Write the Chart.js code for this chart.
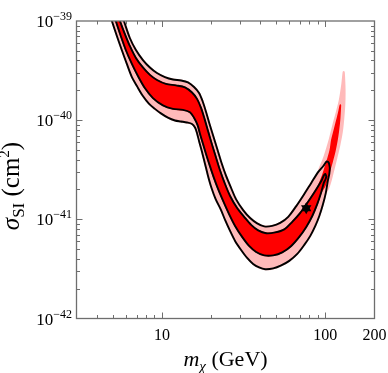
<!DOCTYPE html>
<html>
<head>
<meta charset="utf-8">
<script src="https://cdn.jsdelivr.net/npm/chart.js@4.4.1/dist/chart.umd.min.js"></script>
<style>
  html, body { margin: 0; padding: 0; background: #fff; }
  #wrap { width: 388px; height: 373px; }
</style>
</head>
<body>
<div id="wrap"><canvas id="c" width="388" height="373"></canvas></div>
<script>
// contour curves, [m_chi (GeV), sigma_SI (cm^2)]
const outerLower = [[4.70,1.29e-39],[4.94,1.0e-39],[5.30,7.06e-40],[5.68,5.10e-40],[6.10,3.69e-40],[6.55,2.72e-40],[7.03,2.21e-40],[7.65,1.75e-40],[8.32,1.47e-40],[9.06,1.30e-40],[9.86,1.17e-40],[10.88,1.06e-40],[12.02,9.93e-41],[13.08,9.70e-41],[14.23,9.48e-41],[15.28,9.16e-41],[15.94,8.44e-41],[16.39,7.43e-41],[16.87,6.17e-41],[17.60,4.78e-41],[18.36,3.62e-41],[19.15,2.74e-41],[20.12,2.07e-41],[21.29,1.61e-41],[23.01,1.24e-41],[24.35,9.86e-42],[26.13,7.64e-42],[28.04,6.06e-42],[30.53,4.91e-42],[33.23,4.08e-42],[36.16,3.55e-42],[39.36,3.27e-42],[42.85,3.14e-42],[47.97,3.20e-42],[53.72,3.43e-42],[60.14,3.81e-42],[67.33,4.48e-42],[74.33,5.52e-42],[80.91,6.81e-42],[86.84,8.58e-42],[91.88,1.08e-41],[96.54,1.40e-41],[100.7,1.85e-41],[103.6,2.44e-41],[105.8,2.87e-41],[106.6,3.30e-41]];
const outerUpper = [[5.53,1.29e-39],[5.85,1.0e-39],[6.36,6.74e-40],[6.93,5.10e-40],[7.65,4.04e-40],[8.44,3.40e-40],[9.32,2.99e-40],[10.43,2.72e-40],[11.68,2.57e-40],[13.08,2.51e-40],[14.43,2.40e-40],[15.72,2.16e-40],[16.87,1.88e-40],[17.72,1.56e-40],[18.62,1.21e-40],[19.56,9.16e-41],[20.70,6.77e-41],[21.90,5.01e-41],[23.17,3.70e-41],[24.70,2.74e-41],[26.51,2.07e-41],[28.44,1.59e-41],[31.41,1.24e-41],[34.66,1.03e-41],[38.26,9.10e-42],[42.25,8.48e-42],[47.30,8.58e-42],[52.96,9.20e-42],[59.30,1.06e-41],[66.39,1.36e-41],[74.33,1.80e-41],[82.05,2.33e-41],[90.59,3.01e-41],[97.21,3.45e-41],[102.1,3.84e-41],[105.1,3.70e-41],[106.6,3.30e-41]];
const innerLower = [[4.97,1.29e-39],[5.22,1.0e-39],[5.60,7.06e-40],[6.01,5.10e-40],[6.55,3.69e-40],[7.13,2.79e-40],[7.86,2.11e-40],[8.81,1.67e-40],[10.14,1.41e-40],[11.68,1.30e-40],[13.45,1.27e-40],[14.85,1.20e-40],[15.72,1.06e-40],[16.51,8.95e-41],[17.11,7.26e-41],[17.85,5.75e-41],[18.62,4.56e-41],[19.56,3.54e-41],[20.70,2.68e-41],[22.05,2.03e-41],[23.84,1.50e-41],[25.76,1.13e-41],[28.04,8.58e-42],[30.96,6.65e-42],[34.17,5.39e-42],[37.73,4.69e-42],[42.25,4.33e-42],[47.97,4.33e-42],[54.48,4.64e-42],[61.87,5.39e-42],[69.27,6.65e-42],[76.45,8.38e-42],[83.22,1.08e-41],[89.32,1.43e-41],[94.51,1.89e-41],[97.90,2.33e-41],[100.4,2.55e-41],[101.4,2.71e-41]];
const innerUpper = [[5.21,1.29e-39],[5.53,1.0e-39],[5.93,7.40e-40],[6.36,5.60e-40],[6.93,4.24e-40],[7.65,3.40e-40],[8.44,2.86e-40],[9.32,2.54e-40],[10.58,2.32e-40],[12.19,2.24e-40],[13.84,2.14e-40],[15.28,1.90e-40],[16.39,1.64e-40],[17.35,1.33e-40],[18.23,1.03e-40],[19.15,7.78e-41],[20.12,5.89e-41],[21.29,4.36e-41],[22.53,3.22e-41],[24.18,2.33e-41],[26.13,1.72e-41],[28.85,1.30e-41],[31.85,1.06e-41],[35.16,8.78e-42],[38.81,7.73e-42],[43.45,7.24e-42],[49.35,7.38e-42],[56.05,7.91e-42],[62.74,9.42e-42],[70.25,1.16e-41],[77.54,1.46e-41],[84.41,1.80e-41],[90.59,2.17e-41],[95.17,2.49e-41],[97.90,2.77e-41],[100.0,2.87e-41],[101.4,2.71e-41]];
// filled regions run past the closed contours into a thin plume at high mass
const pinkPlume = [[104.3,2.07e-41],[108.1,2.49e-41],[112.0,3.15e-41],[116.8,4.16e-41],[121.9,5.62e-41],[126.2,7.61e-41],[128.9,1.05e-40],[130.8,1.46e-40],[131.2,2.02e-40],[130.4,2.66e-40],[129.5,3.06e-40],[127.1,2.32e-40],[122.7,1.60e-40],[117.7,1.21e-40],[112.0,8.95e-41],[106.6,6.46e-41],[101.4,4.89e-41],[97.21,3.97e-41],[93.18,3.37e-41]];
const redPlume = [[99.29,2.17e-41],[102.9,2.55e-41],[106.6,3.15e-41],[110.4,3.88e-41],[114.4,4.89e-41],[117.7,6.17e-41],[120.2,7.78e-41],[122.2,1.00e-40],[123.3,1.27e-40],[123.6,1.42e-40],[120.7,1.18e-40],[117.3,9.81e-41],[113.6,7.96e-41],[109.6,6.31e-41],[107.3,5.01e-41],[103.6,4.06e-41],[100.0,3.37e-41],[96.54,2.80e-41]];
const bestFit = [[76.4, 1.29e-41]];

const xTickValues = [10, 100, 200];
const xTickLabels = ['10', '100', '200'];
const yTickValues = [1e-42, 1e-41, 1e-40, 1e-39];
const yTickExponents = ['−42', '−41', '−40', '−39'];
const xMajorTicks = [10, 100];
const xMinorTicks = [4, 5, 6, 7, 8, 9, 20, 30, 40, 50, 60, 70, 80, 90];
const yMajorTicks = [1e-41, 1e-40];
const yMinorTicks = [2e-42, 3e-42, 4e-42, 5e-42, 6e-42, 7e-42, 8e-42, 9e-42,
  2e-41, 3e-41, 4e-41, 5e-41, 6e-41, 7e-41, 8e-41, 9e-41,
  2e-40, 3e-40, 4e-40, 5e-40, 6e-40, 7e-40, 8e-40, 9e-40];

const SERIF = '"Liberation Serif"';
const xTitleParts = [
  { t: 'm', f: 'italic 22px ' + SERIF, dy: 0 },
  { t: 'χ', f: 'italic 15px ' + SERIF, dy: 5 },
  { t: ' (GeV)', f: '22px ' + SERIF, dy: 0 },
];
const yTitleParts = [
  { t: 'σ', f: 'italic 25px ' + SERIF, dy: 0 },
  { t: 'SI', f: '17px ' + SERIF, dy: 5 },
  { t: ' (cm', f: '25px ' + SERIF, dy: 0 },
  { t: '2', f: '15px ' + SERIF, dy: -10 },
  { t: ')', f: '25px ' + SERIF, dy: 0 },
];

const RED = '#ff0000', PINK = '#ffbaba', AXIS = '#6e6e6e';
const toXY = arr => arr.map(([x, y]) => ({ x, y }));

const pinkShape = outerLower.filter(p => p[0] <= 101)
  .concat(pinkPlume, outerUpper.filter(p => p[0] <= 91).reverse());
const redShape = innerLower.filter(p => p[0] <= 95)
  .concat(redPlume, innerUpper.filter(p => p[0] <= 91).reverse());
const outerLoop = outerLower.concat(outerUpper.slice().reverse());
const innerLoop = innerLower.concat(innerUpper.slice().reverse());

function drawRun(ctx, parts, cx, y) {
  let w = 0;
  parts.forEach(p => { ctx.font = p.f; p.w = ctx.measureText(p.t).width; w += p.w; });
  let x = cx - w / 2;
  parts.forEach(p => { ctx.font = p.f; ctx.fillText(p.t, x, y + p.dy); x += p.w; });
}

// inward tick marks on all four sides, behind the filled bands
const frameTicks = {
  id: 'frameTicks',
  beforeDatasetsDraw(chart) {
    const { ctx, chartArea: a, scales: { x, y } } = chart;
    ctx.save();
    ctx.strokeStyle = AXIS; ctx.lineWidth = 1;
    ctx.beginPath();
    const xt = (vals, len) => vals.forEach(v => {
      const p = Math.round(x.getPixelForValue(v)) + 0.5;
      ctx.moveTo(p, a.bottom); ctx.lineTo(p, a.bottom - len);
      ctx.moveTo(p, a.top); ctx.lineTo(p, a.top + len);
    });
    const yt = (vals, len) => vals.forEach(v => {
      const p = Math.round(y.getPixelForValue(v)) + 0.5;
      ctx.moveTo(a.left, p); ctx.lineTo(a.left + len, p);
      ctx.moveTo(a.right, p); ctx.lineTo(a.right - len, p);
    });
    xt(xMajorTicks, 6); xt(xMinorTicks, 3.5);
    yt(yMajorTicks, 6); yt(yMinorTicks, 3.5);
    ctx.stroke();
    ctx.restore();
  },
  afterDatasetsDraw(chart) {
    const { ctx, chartArea: a } = chart;
    ctx.save();
    ctx.strokeStyle = AXIS; ctx.lineWidth = 1.3;
    ctx.strokeRect(a.left, a.top, a.right - a.left, a.bottom - a.top);
    ctx.restore();
  },
};

// power-of-ten labels on the y axis and the two axis titles
const axisText = {
  id: 'axisText',
  afterDraw(chart) {
    const { ctx, chartArea: a, scales: { y } } = chart;
    ctx.save();
    ctx.fillStyle = '#000';
    ctx.textBaseline = 'alphabetic';
    ctx.textAlign = 'left';
    const right = a.left - 4.5;
    yTickValues.forEach((v, i) => {
      const p = y.getPixelForValue(v);
      ctx.font = '12px ' + SERIF;
      const we = ctx.measureText(yTickExponents[i]).width;
      ctx.fillText(yTickExponents[i], right - we, p - 1);
      ctx.font = '17px ' + SERIF;
      const wb = ctx.measureText('10').width;
      ctx.fillText('10', right - we - wb, p + 6);
    });
    drawRun(ctx, xTitleParts, (a.left + a.right) / 2, 366);
    ctx.translate(19, 186);
    ctx.rotate(-Math.PI / 2);
    drawRun(ctx, yTitleParts, 0, 0);
    ctx.restore();
  },
};

const line = (data, color, width) => ({
  data: toXY(data), borderColor: color, borderWidth: width, backgroundColor: color,
  pointRadius: 0, tension: 0.3, fill: false,
});

new Chart(document.getElementById('c'), {
  type: 'line',
  data: {
    datasets: [
      { data: toXY(bestFit), showLine: false, pointStyle: 'triangle', pointRadius: 6, rotation: 0,
        pointBackgroundColor: '#000', pointBorderColor: '#000', pointBorderWidth: 0 },
      { data: toXY(bestFit), showLine: false, pointStyle: 'triangle', pointRadius: 6, rotation: 180,
        pointBackgroundColor: '#000', pointBorderColor: '#000', pointBorderWidth: 0 },
      line(outerLoop, '#000', 1.9),
      line(innerLoop, '#000', 1.9),
      Object.assign(line(redShape, RED, 1.5), { fill: 'shape' }),
      Object.assign(line(pinkShape, PINK, 2), { fill: 'shape' }),
    ],
  },
  options: {
    responsive: false, animation: false, events: [],
    layout: { padding: { left: 0, top: 21, right: 13.5, bottom: 0 } },
    plugins: { legend: { display: false }, tooltip: { enabled: false } },
    scales: {
      x: {
        type: 'logarithmic', position: 'bottom', min: 3, max: 200,
        grid: { display: false }, border: { display: false },
        afterBuildTicks: s => { s.ticks = xTickValues.map(v => ({ value: v })); },
        afterFit: s => { s.height = 54.5; },
        ticks: {
          callback: (v, i) => xTickLabels[i], autoSkip: false, maxRotation: 0, padding: 0,
          color: '#000', font: { family: SERIF, size: 16 },
        },
      },
      y: {
        type: 'logarithmic', position: 'left', min: 1e-42, max: 1e-39,
        grid: { display: false }, border: { display: false },
        afterBuildTicks: s => { s.ticks = yTickValues.map(v => ({ value: v })); },
        afterFit: s => { s.width = 76.5; },
        ticks: { display: false },
      },
    },
  },
  plugins: [frameTicks, axisText],
});
</script>
</body>
</html>
